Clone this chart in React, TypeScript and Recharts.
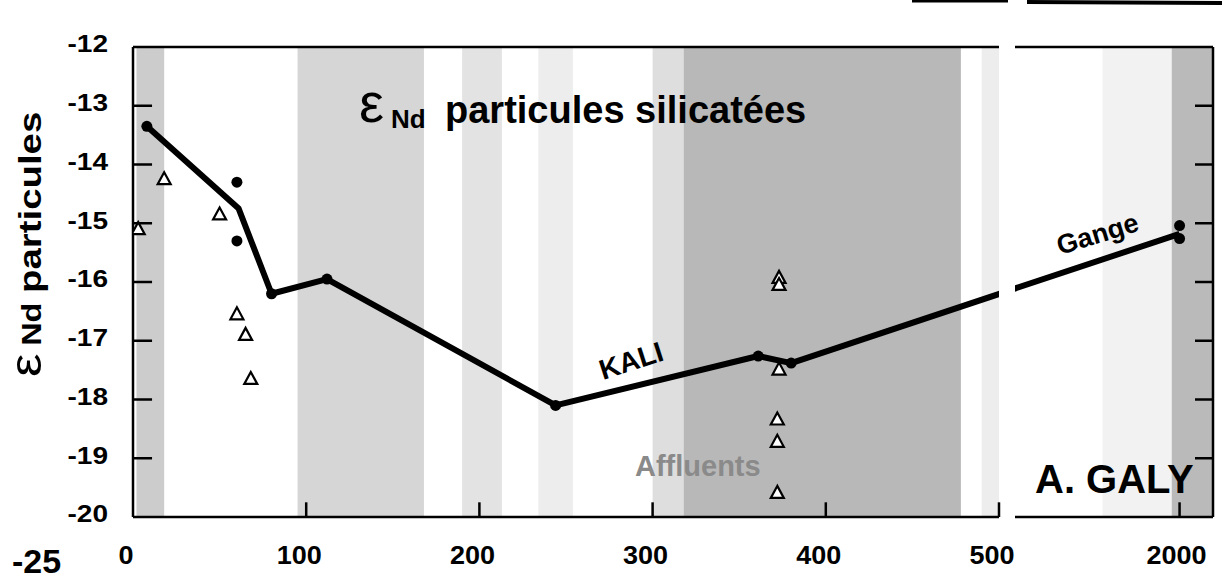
import React from 'react'
import {
  ComposedChart,
  XAxis,
  YAxis,
  Line,
  Scatter,
  ReferenceArea,
  ReferenceLine,
} from 'recharts'

// KALI / Gange line (distance km, eNd)
const kaliX = [8, 61, 80, 112, 244, 361, 380, 2000]
const kaliY = [-13.35, -14.75, -16.2, -15.95, -18.1, -17.26, -17.38, -15.18]

// filled circles
const dotX = [8, 60, 60, 80, 112, 244, 361, 380, 2000, 2000]
const dotY = [-13.35, -14.3, -15.3, -16.2, -15.95, -18.1, -17.26, -17.38, -15.04, -15.26]

// open triangles (affluents)
const triX = [3, 18, 50, 60, 65, 68, 373, 373, 373, 372, 372, 372]
const triY = [-15.1, -14.25, -14.85, -16.55, -16.9, -17.65, -15.93, -16.05, -17.49, -18.34, -18.72, -19.59]

// shaded zones along the river
const bandFrom = [2, 95, 190, 234, 300, 318, 490, 560, 600]
const bandTo = [18, 168, 213, 254, 318, 478, 500, 600, 623.8]
const bandShade = [0.2, 0.16, 0.11, 0.07, 0.13, 0.28, 0.07, 0.05, 0.27]

const yTicks = [-20, -19, -18, -17, -16, -15, -14, -13, -12]
const innerYTicks = [-19, -18, -17, -16, -15, -14, -13]
const xTicksLeft = [0, 100, 200, 300, 400, 500]
const xTicksRight = [2000]

// broken axis: everything past 500 is drawn just after the gap
const BREAK_SHIFT = 1395.5
const toAxis = (x: number) => (x <= 500 ? x : x - BREAK_SHIFT)
const fromAxis = (x: number) => (x <= 500 ? x : x + BREAK_SHIFT)
const RIGHT_DOMAIN: [number, number] = [509.5, 623.8]

const lineData = kaliX.map((x, i) => ({ x: toAxis(x), y: kaliY[i] }))
const dotData = dotX.map((x, i) => ({ x: toAxis(x), y: dotY[i] }))
const triData = triX.map((x, i) => ({ x: toAxis(x), y: triY[i] }))

const font = '"Liberation Sans", Arial, Helvetica, sans-serif'
const frame = { stroke: '#000', strokeWidth: 2.5 }

const Triangle = (props: any) => {
  const { cx, cy } = props
  return (
    <polygon
      points={`${cx},${cy - 7} ${cx - 6.5},${cy + 5} ${cx + 6.5},${cy + 5}`}
      fill="#fff"
      stroke="#000"
      strokeWidth={2.2}
    />
  )
}

const Dot = (props: any) => <circle cx={props.cx} cy={props.cy} r={5.5} fill="#000" />

// the scan is a bit stretched sideways, so the labels are widened
const XTick = (props: any) => {
  const { x, y, payload, shift } = props
  return (
    <text
      transform={`translate(${x + shift},${y}) scale(1.08,1)`}
      dy="0.72em"
      textAnchor="middle"
      fontFamily={font}
      fontWeight="bold"
      fontSize={25}
      fill="#000"
    >
      {Math.round(fromAxis(payload.value))}
    </text>
  )
}

const YTick = (props: any) => {
  const { x, y, payload } = props
  return (
    <text
      transform={`translate(${x},${y - 3}) scale(1.22,1)`}
      dy="0.36em"
      textAnchor="end"
      fontFamily={font}
      fontWeight="bold"
      fontSize={23}
      fill="#000"
    >
      {payload.value}
    </text>
  )
}

const bands = (lo: number, hi: number) =>
  bandFrom
    .map((f, i) => ({ f, t: bandTo[i], o: bandShade[i] }))
    .filter((b) => b.f >= lo && b.t <= hi)
    .map((b, i) => (
      <ReferenceArea
        key={'band' + i}
        x1={b.f}
        x2={b.t}
        fill="#000"
        fillOpacity={b.o}
        stroke="none"
        ifOverflow="hidden"
      />
    ))

const LeftPanel = () => (
  <ComposedChart
    width={1225}
    height={581}
    margin={{ top: 47, right: 226, left: 73, bottom: 34 }}
  >
    {bands(0, 500)}
    <XAxis
      type="number"
      dataKey="x"
      domain={[0, 500]}
      ticks={xTicksLeft}
      allowDataOverflow
      height={30}
      tickLine={false}
      tickSize={0}
      tickMargin={29}
      axisLine={frame}
      tick={(p: any) => <XTick {...p} shift={-7} />}
    />
    <YAxis
      type="number"
      dataKey="y"
      domain={[-20, -12]}
      ticks={yTicks}
      allowDataOverflow
      width={60}
      tickLine={false}
      tickSize={0}
      tickMargin={25}
      axisLine={frame}
      tick={(p: any) => <YTick {...p} />}
    />
    <ReferenceLine y={-12} stroke="#000" strokeWidth={2.5} />
    {innerYTicks.map((t) => (
      <ReferenceLine
        key={'yt' + t}
        segment={[{ x: 0, y: t }, { x: 11, y: t }]}
        stroke="#000"
        strokeWidth={2.5}
      />
    ))}
    {xTicksLeft.slice(1).map((t) => (
      <ReferenceLine
        key={'xt' + t}
        segment={[{ x: t, y: -20 }, { x: t, y: -19.75 }]}
        stroke="#000"
        strokeWidth={2.5}
      />
    ))}
    <Line
      data={lineData}
      dataKey="y"
      type="linear"
      stroke="#000"
      strokeWidth={6}
      strokeLinejoin="round"
      dot={false}
      isAnimationActive={false}
    />
    <Scatter data={dotData.filter((d) => d.x <= 500)} dataKey="y" shape={Dot} isAnimationActive={false} />
    <Scatter data={triData} dataKey="y" shape={Triangle} isAnimationActive={false} />
  </ComposedChart>
)

const RightPanel = () => (
  <ComposedChart
    width={215}
    height={581}
    margin={{ top: 47, right: 10, left: 5, bottom: 34 }}
  >
    {bands(RIGHT_DOMAIN[0], RIGHT_DOMAIN[1])}
    <XAxis
      type="number"
      dataKey="x"
      domain={RIGHT_DOMAIN}
      ticks={xTicksRight.map(toAxis)}
      allowDataOverflow
      height={30}
      tickLine={false}
      tickSize={0}
      tickMargin={29}
      axisLine={frame}
      tick={(p: any) => <XTick {...p} shift={-3} />}
    />
    <YAxis
      type="number"
      dataKey="y"
      orientation="right"
      domain={[-20, -12]}
      allowDataOverflow
      width={2}
      tick={false}
      tickLine={false}
      axisLine={frame}
    />
    <ReferenceLine y={-12} stroke="#000" strokeWidth={2.5} />
    {innerYTicks.map((t) => (
      <ReferenceLine
        key={'ryt' + t}
        segment={[{ x: RIGHT_DOMAIN[1] - 10.4, y: t }, { x: RIGHT_DOMAIN[1], y: t }]}
        stroke="#000"
        strokeWidth={2.5}
      />
    ))}
    {xTicksRight.map((t) => (
      <ReferenceLine
        key={'rxt' + t}
        segment={[{ x: toAxis(t), y: -20 }, { x: toAxis(t), y: -19.75 }]}
        stroke="#000"
        strokeWidth={2.5}
      />
    ))}
    <Line
      data={lineData}
      dataKey="y"
      type="linear"
      stroke="#000"
      strokeWidth={6}
      strokeLinejoin="round"
      dot={false}
      isAnimationActive={false}
    />
    <Scatter data={dotData.filter((d) => d.x > 500)} dataKey="y" shape={Dot} isAnimationActive={false} />
  </ComposedChart>
)

const Annotations = () => (
  <svg
    width={1225}
    height={581}
    style={{ position: 'absolute', left: 0, top: 0, pointerEvents: 'none' }}
    fontFamily={font}
  >
    {/* scan leftovers at the top edge */}
    <line x1={912} y1={1} x2={1008} y2={1} stroke="#000" strokeWidth={3} />
    <line x1={1027} y1={2} x2={1222} y2={3} stroke="#000" strokeWidth={4} />

    <text x={359} y={122} fontSize={56}>ε</text>
    <text x={391} y={128} fontSize={26} fontWeight="bold">Nd</text>
    <text x={445} y={123} fontSize={38} fontWeight="bold">particules silicatées</text>

    <g transform="translate(41,377) rotate(-90) scale(1.2,1)">
      <text x={0} y={0} fontSize={44}>ε</text>
      <text x={26} y={0} fontSize={27} fontWeight="bold">Nd</text>
      <text x={70} y={0} fontSize={32} fontWeight="bold">particules</text>
    </g>

    <text transform="translate(603,380) rotate(-18)" fontSize={28} fontWeight="bold">KALI</text>
    <text transform="translate(1060,255) rotate(-17)" fontSize={27} fontWeight="bold">Gange</text>
    <text x={635} y={476} fontSize={29} fontWeight="bold" fill="#8a8a8a">Affluents</text>
    <text x={1035} y={493} fontSize={40} fontWeight="bold">A. GALY</text>
    <text x={12} y={573} fontSize={34} fontWeight="bold">-25</text>
  </svg>
)

export default function App() {
  return (
    <div
      style={{
        position: 'absolute',
        left: 0,
        top: 0,
        width: 1225,
        height: 581,
        background: '#fff',
        overflow: 'hidden',
      }}
    >
      <div style={{ position: 'absolute', left: 0, top: 0 }}>
        <LeftPanel />
      </div>
      <div style={{ position: 'absolute', left: 1010, top: 0 }}>
        <RightPanel />
      </div>
      <Annotations />
    </div>
  )
}
